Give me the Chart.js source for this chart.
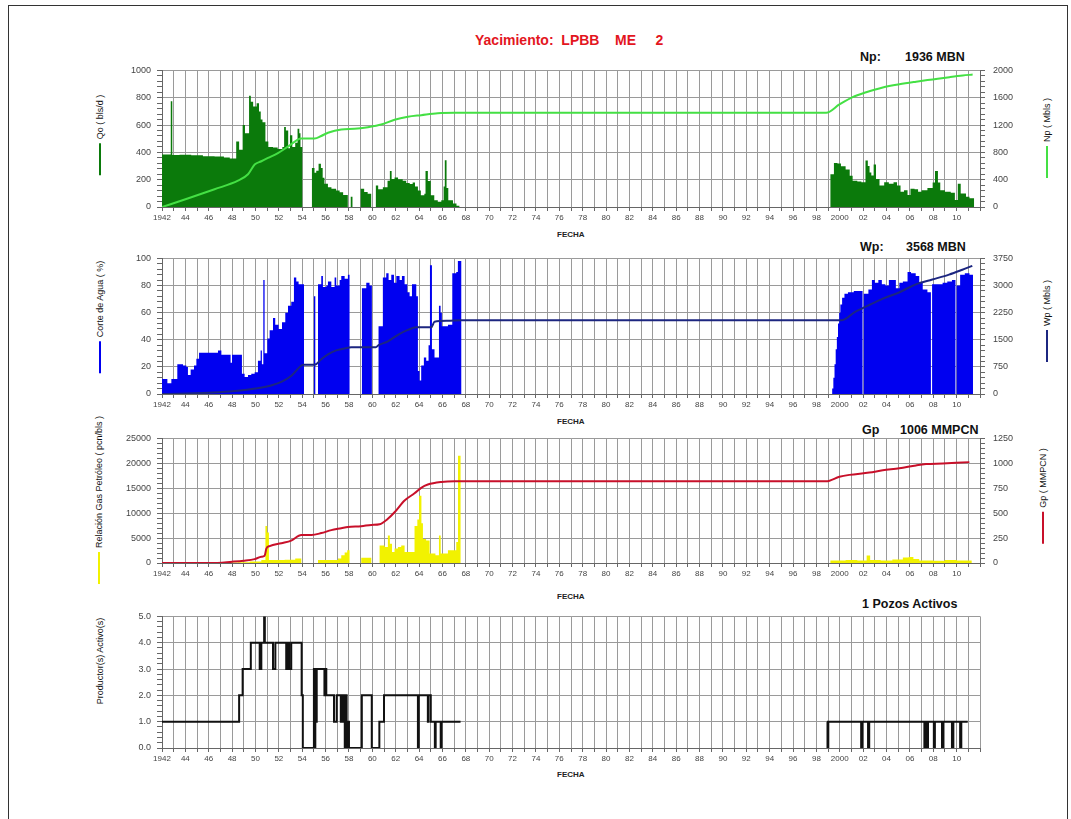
<!DOCTYPE html>
<html lang="es">
<head>
<meta charset="utf-8">
<title>Yacimiento LPBB ME 2</title>
<script src="https://cdn.jsdelivr.net/npm/chart.js@4.4.1/dist/chart.umd.min.js"></script>
<style>
    body { margin: 0; background: #fff; font-family: "Liberation Sans", Arial, sans-serif; }
    #page { position: relative; width: 1071px; height: 819px; overflow: hidden; background: #fff; }
    #frame { position: absolute; left: 8px; top: 5px; width: 1058px; height: 900px; border: 1px solid #333; }
    canvas { position: absolute; left: 0; }
    .txt { position: absolute; white-space: pre; font-weight: bold; line-height: 14px; }
    .head { font-size: 12.5px; color: #111; }
    .fecha { font-size: 8px; color: #222; left: 557px; line-height: 10px; }
    .ytitle { position: absolute; transform: translate(-50%, -50%) rotate(-90deg); white-space: pre;
              font-size: 9px; color: #111; display: flex; align-items: center; }
    .ytitle i { display: inline-block; width: 32px; height: 2px; margin-right: 4px; }
</style>
</head>
<body>
<div id="page">
    <div id="frame"></div>

    <div class="txt" style="left:475px; top:33px; font-size:14px; color:#e3161e;">Yacimiento:  LPBB    ME     2</div>

    <div class="txt head" style="left:860px; top:50px;">Np:</div>
    <div class="txt head" style="left:905px; top:50px;">1936 MBN</div>
    <div class="txt head" style="left:860px; top:240px;">Wp:</div>
    <div class="txt head" style="left:906px; top:240px;">3568 MBN</div>
    <div class="txt head" style="left:862px; top:423px;">Gp</div>
    <div class="txt head" style="left:900px; top:423px;">1006 MMPCN</div>
    <div class="txt head" style="left:862px; top:597px;">1 Pozos Activos</div>

    <div class="txt fecha" style="top:230px;">FECHA</div>
    <div class="txt fecha" style="top:417px;">FECHA</div>
    <div class="txt fecha" style="top:592px;">FECHA</div>
    <div class="txt fecha" style="top:770px;">FECHA</div>

    <div class="ytitle" style="left:100px; top:135px;"><i style="background:#0b7a0b"></i>Qo ( bls/d )</div>
    <div class="ytitle" style="left:1047px; top:138px;"><i style="background:#44e044"></i>Np ( Mbls )</div>
    <div class="ytitle" style="left:100px; top:317px;"><i style="background:#0000f0"></i>Corte de Agua ( %)</div>
    <div class="ytitle" style="left:1047px; top:321px;"><i style="background:#1c2680"></i>Wp ( Mbls )</div>
    <div class="ytitle" style="left:99px; top:500px;"><i style="background:#f2f200"></i>Relación Gas Petróleo ( pcn/bls )</div>
    <div class="ytitle" style="left:1043px; top:496px;"><i style="background:#c8102a"></i>Gp ( MMPCN )</div>
    <div class="ytitle" style="left:100px; top:661px;">Productor(s) Activo(s)</div>

    <canvas id="qoChart" width="1071" height="170" style="top:57px;"></canvas>
    <canvas id="wcChart" width="1071" height="169" style="top:245px;"></canvas>
    <canvas id="gorChart" width="1071" height="158" style="top:425px;"></canvas>
    <canvas id="wellsChart" width="1071" height="163" style="top:605px;"></canvas>
</div>

<script>
// Tick labels for the date axis (every second year)
const yearTicks = [1942, 1944, 1946, 1948, 1950, 1952, 1954, 1956, 1958, 1960, 1962, 1964, 1966, 1968,
    1970, 1972, 1974, 1976, 1978, 1980, 1982, 1984, 1986, 1988, 1990, 1992, 1994, 1996, 1998, 2000,
    2002, 2004, 2006, 2008, 2010];
const yearLabels = ['1942', '44', '46', '48', '50', '52', '54', '56', '58', '60', '62', '64', '66', '68',
    '70', '72', '74', '76', '78', '80', '82', '84', '86', '88', '90', '92', '94', '96', '98', '2000',
    '02', '04', '06', '08', '10'];

// Oil rate Qo (bls/d), each value holds until the next date
const qoYears = [1942.0, 1942.75, 1942.88, 1943.5, 1944.5, 1945.5, 1946.5, 1947.3, 1947.8, 1948.35,
    1948.6, 1948.9, 1949.1, 1949.45, 1949.6, 1949.8, 1950.1, 1950.3, 1950.45, 1950.6, 1950.85, 1951.1,
    1951.5, 1951.9, 1952.3, 1952.45, 1952.6, 1952.8, 1952.95, 1953.15, 1953.4, 1953.6, 1953.75, 1953.85,
    1954.0, 1954.83, 1955.05, 1955.2, 1955.4, 1955.6, 1955.75, 1955.9, 1956.2, 1956.5, 1956.9, 1957.2,
    1957.5, 1957.9, 1958.15, 1958.3, 1959.0, 1959.3, 1959.6, 1959.9, 1960.3, 1960.5, 1960.9, 1961.3,
    1961.5, 1961.65, 1961.9, 1962.2, 1962.6, 1962.9, 1963.2, 1963.45, 1963.65, 1963.9, 1964.15, 1964.45,
    1964.55, 1964.75, 1965.0, 1965.3, 1965.6, 1965.9, 1966.1, 1966.2, 1966.35, 1966.5, 1966.9, 1967.2,
    1967.45,
    1999.2, 1999.5, 1999.8, 2000.1, 2000.5, 2000.85, 2001.1, 2001.5, 2001.85, 2002.2, 2002.4, 2002.55,
    2002.7, 2002.9, 2003.1, 2003.4, 2003.8, 2004.2, 2004.6, 2004.9, 2005.2, 2005.5, 2005.8, 2006.05,
    2006.4, 2006.7, 2007.0, 2007.5, 2007.95, 2008.15, 2008.4, 2008.6, 2009.0, 2009.5, 2009.85, 2010.1,
    2010.35, 2010.8, 2011.1, 2011.5];
const qoRates = [385, 775, 380, 382, 378, 372, 370, 362, 355, 480,
    420, 600, 540, 815, 770, 735, 760, 700, 640, 620, 480, 440,
    435, 425, 440, 585, 560, 430, 525, 440, 470, 572, 540, 440,
    0, 285, 250, 265, 316, 285, 215, 170, 145, 133, 120, 108,
    88, 0, 75, 0, 133, 110, 97, 0, 157, 130, 145, 192,
    264, 205, 216, 204, 192, 175, 169, 180, 150, 121, 86, 97,
    264, 190, 86, 50, 38, 50, 150, 342, 140, 50, 26, 10,
    0,
    240, 322, 318, 299, 275, 228, 193, 186, 181, 340, 300, 252,
    230, 311, 205, 158, 181, 170, 181, 158, 111, 122, 87, 134,
    130, 111, 122, 140, 180, 264, 180, 122, 111, 105, 52, 170,
    99, 75, 64, 0];

// Cumulative oil Np (Mbls)
const npYears = [1942.0, 1944.2, 1946.5, 1948.5, 1949.36, 1949.93, 1950.5, 1951.07, 1951.92, 1952.78,
    1953.92, 1955.06, 1955.63, 1956.2, 1957.34, 1958.48, 1959.62, 1960.76, 1961.9, 1963.04, 1964.18,
    1965.6, 1967.04, 1998.84, 1999.97, 2001.1, 2002.26, 2003.68, 2005.1, 2006.53, 2007.95, 2009.38,
    2010.52, 2011.37];
const npValues = [0, 124, 260, 385, 480, 622, 670, 718, 789, 884,
    1003, 1003, 1040, 1088, 1136, 1145, 1169, 1207, 1278, 1321, 1345,
    1373, 1380, 1380, 1501, 1609, 1680, 1751, 1798, 1835, 1868, 1901,
    1925, 1939];

// Water cut (%)
const wcYears = [1942.0, 1942.46, 1942.8, 1943.31, 1943.8, 1944.08, 1944.22, 1944.45, 1944.74, 1944.94,
    1945.17, 1946.79, 1947.08, 1947.87, 1947.99, 1948.84, 1949.07, 1949.36, 1949.64, 1949.93, 1950.21,
    1950.44, 1950.55, 1950.67, 1950.78, 1951.01, 1951.21, 1951.5, 1951.69, 1951.98, 1952.27, 1952.55,
    1952.78, 1953.06, 1953.29, 1953.49, 1953.69, 1954.15, 1955.0, 1955.12, 1955.35, 1955.63, 1955.77,
    1956.06, 1956.2, 1956.49, 1956.77, 1956.91, 1957.2, 1957.34, 1957.63, 1957.91, 1958.05, 1959.11,
    1959.48, 1959.76, 1959.96, 1960.53, 1960.9, 1961.19, 1961.39, 1961.62, 1961.85, 1962.05, 1962.33,
    1962.53, 1962.76, 1962.99, 1963.19, 1963.39, 1963.76, 1963.9, 1964.04, 1964.18, 1964.41, 1964.61,
    1964.81, 1964.93, 1965.1, 1965.32, 1965.7, 1965.84, 1965.95, 1966.47, 1966.84, 1967.18, 1967.32,
    1967.61,
    1999.35, 1999.45, 1999.55, 1999.65, 1999.75, 1999.85, 1999.95, 2000.05, 2000.2, 2000.4, 2000.7,
    2001.2, 2001.95, 2002.05, 2002.45, 2002.75, 2003.0, 2003.3, 2003.6, 2003.9, 2004.2, 2004.5, 2004.8,
    2005.1, 2005.4, 2005.8, 2006.1, 2006.5, 2006.8, 2007.1, 2007.5, 2007.8, 2007.9, 2008.4, 2008.8,
    2009.2, 2009.6, 2009.9, 2010.0, 2010.3, 2010.7, 2011.1, 2011.4];
const wcValues = [11, 8, 11, 22, 21, 20, 14, 18, 21, 26,
    30.5, 32, 29, 23, 29, 15, 12.5, 14, 15, 16, 24.5,
    32, 22, 84, 30, 41, 47, 56, 51, 48, 53, 60,
    65, 68, 86, 83, 81, 0, 72, 0, 81, 87, 79,
    80, 83, 79, 86, 80, 84, 87, 85, 88, 0, 78,
    82, 80, 0, 50, 86, 89, 84, 88, 82, 87, 84,
    87, 81, 75, 72, 81, 72, 17, 10, 21, 27, 24.5,
    36, 95, 33, 27, 65, 60, 50, 51, 89, 90, 98,
    0,
    4, 12, 22, 33, 42, 52, 60, 66, 71, 74, 75,
    76, 0, 74, 77, 84, 82, 84, 81, 80, 84, 84, 78,
    82, 83, 90, 89, 87, 82, 77, 75, 0, 81, 81, 82,
    83, 84, 0, 80, 88, 89, 88, 0];

// Cumulative water Wp (Mbls)
const wpYears = [1942.0, 1946.0, 1948.5, 1950.0, 1951.4, 1952.3, 1953.1, 1953.9, 1954.15, 1955.06,
    1955.63, 1956.2, 1956.91, 1957.91, 1958.2, 1960.3, 1960.53, 1961.33, 1962.19, 1963.04, 1963.76,
    1965.04, 1965.32, 1966.47, 1967.6, 2000.17, 2001.31, 2002.45, 2003.64, 2005.07, 2006.5, 2007.92,
    2009.35, 2010.49, 2011.34];
const wpValues = [0, 36, 90, 153, 243, 351, 513, 782, 809, 809,
    962, 1097, 1205, 1277, 1295, 1295, 1349, 1457, 1637, 1772, 1844,
    1844, 1996, 2023, 2040, 2040, 2270, 2450, 2630, 2808, 3033, 3167,
    3301, 3436, 3544];

// Gas-oil ratio (pcn/bls)
const gorYears = [1942.0, 1948.5, 1949.5, 1950.5, 1950.85, 1951.0, 1951.15, 1952.5, 1953.4, 1953.92,
    1955.35, 1957.06, 1957.34, 1957.63, 1957.85, 1958.05, 1959.05, 1959.91, 1960.62, 1961.05, 1961.33,
    1961.5, 1961.68, 1961.9, 1962.19, 1962.47, 1962.76, 1963.61, 1963.85, 1964.0, 1964.2, 1964.33,
    1964.6, 1964.9, 1965.4, 1965.7, 1965.85, 1966.47, 1966.89, 1967.18, 1967.33, 1967.55,
    1999.2, 2000.5, 2001.5, 2002.3, 2002.6, 2003.5, 2004.5, 2005.4, 2005.9, 2006.3, 2006.8, 2008.0,
    2009.0, 2010.0, 2011.3];
const gorValues = [80, 150, 300, 600, 7400, 6100, 600, 650, 900, 0,
    600, 900, 1570, 2090, 2550, 0, 1050, 0, 3500, 3200, 5500,
    3850, 2200, 2900, 3200, 3500, 2200, 7400, 8750, 13500, 8000, 4800,
    4500, 1900, 1570, 5500, 1900, 2550, 2550, 4200, 21500, 0,
    500, 600, 500, 1500, 600, 500, 700, 1100, 1200, 800, 500, 450,
    600, 500, 0];

// Cumulative gas Gp (MMPCN)
const gpYears = [1942.0, 1946.2, 1948.0, 1949.0, 1949.93, 1950.5, 1950.78, 1950.93, 1951.21, 1952.21,
    1953.06, 1953.92, 1954.78, 1955.63, 1956.49, 1957.34, 1957.91, 1959.05, 1959.91, 1960.62, 1961.33,
    1961.9, 1962.76, 1963.61, 1964.18, 1964.75, 1965.9, 1967.04, 1998.84, 1999.97, 2000.82, 2002.53,
    2003.68, 2005.1, 2006.53, 2007.38, 2008.81, 2009.95, 2011.09];
const gpValues = [0, 0, 13, 23, 39, 62, 72, 144, 170, 199,
    225, 281, 281, 300, 330, 349, 362, 369, 382, 389, 444,
    509, 627, 699, 754, 787, 813, 820, 820, 865, 884, 907,
    930, 950, 979, 992, 998, 1005, 1012];

// Active producers (null = no wells reported)
const wellsYears = [1942.0, 1948.6, 1948.9, 1949.6, 1950.36, 1950.5, 1950.74, 1950.8, 1951.5, 1951.7,
    1952.63, 1952.75, 1952.88, 1953.06, 1953.95, 1954.05, 1955.0, 1955.05, 1955.12, 1955.18, 1955.24,
    1955.9, 1956.0, 1956.06, 1956.72, 1956.95, 1957.3, 1957.38, 1957.48, 1957.56, 1957.64, 1957.72,
    1957.8, 1957.88, 1958.0, 1959.1, 1959.95, 1960.6, 1961.0, 1963.9, 1963.97, 1964.75, 1964.8,
    1965.0, 1965.35, 1965.42, 1965.85, 1965.92, 1967.55, 1967.56,
    1998.9, 1998.95, 1999.02, 2001.83, 2001.93, 2002.42, 2002.52, 2007.24, 2007.32, 2007.45, 2007.55,
    2008.05, 2008.14, 2008.75, 2008.84, 2009.6, 2009.72, 2010.3, 2010.4, 2010.95];
const wellsCount = [1, 2, 3, 4, 3, 4, 5, 4, 3, 4,
    3, 4, 3, 4, 2, 0, 3, 0, 3, 1, 3,
    2, 3, 2, 1, 2, 1, 2, 1, 2, 0, 2,
    0, 1, 0, 2, 0, 1, 2, 0, 2, 1, 2,
    1, 0, 1, 0, 1, 1, null,
    1, 0, 1, 0, 1, 0, 1, 0, 1, 0, 1,
    0, 1, 0, 1, 0, 1, 0, 1, 1];

Chart.defaults.font.family = '"Liberation Sans", Arial, sans-serif';
Chart.defaults.color = '#444';
Chart.defaults.animation = false;

const GRID = '#9a9a9a';
const AXIS = '#666';

function points(xs, ys) {
    return xs.map((x, i) => ({ x: x, y: ys[i] }));
}

function isMajor(value, major) {
    const r = value / major;
    return Math.abs(r - Math.round(r)) < 1e-6;
}

function dateAxis() {
    return {
        type: 'linear', min: 1942, max: 2012,
        afterFit: (scale) => { scale.height = 20; },
        grid: { color: GRID, tickColor: AXIS, tickLength: 4 },
        border: { color: AXIS },
        ticks: {
            stepSize: 1, autoSkip: false, maxRotation: 0, padding: 2, font: { size: 8 },
            callback: (v) => {
                const i = yearTicks.indexOf(v);
                return i < 0 ? '' : yearLabels[i];
            }
        }
    };
}

// major = labelled step, minor = small tick step
function valueAxis(side, max, major, minor, fmt) {
    const left = side === 'left';
    return {
        type: 'linear', position: side, min: 0, max: max,
        afterFit: (scale) => { scale.width = left ? 162 : 91; },
        grid: {
            drawOnChartArea: left,
            color: (ctx) => (ctx.tick && isMajor(ctx.tick.value, major)) ? GRID : 'rgba(0,0,0,0)',
            tickColor: AXIS,
            tickLength: 5
        },
        border: { color: AXIS },
        ticks: {
            stepSize: minor, autoSkip: false, padding: left ? 6 : 8, font: { size: 9 },
            callback: (v) => isMajor(v, major) ? fmt(v) : ''
        }
    };
}

function areaSet(xs, ys, color) {
    return {
        data: points(xs, ys), yAxisID: 'y', stepped: 'before', fill: 'origin',
        backgroundColor: color, borderColor: color, borderWidth: 0, pointRadius: 0
    };
}

function cumSet(xs, ys, color) {
    return {
        data: points(xs, ys), yAxisID: 'yr', fill: false, borderColor: color,
        borderWidth: 2, pointRadius: 0, cubicInterpolationMode: 'monotone'
    };
}

function makePanel(id, datasets, scales, padRight) {
    return new Chart(document.getElementById(id), {
        type: 'line',
        data: { datasets: datasets },
        options: {
            responsive: false,
            animation: false,
            layout: { padding: { top: 10, right: padRight, bottom: 0, left: 0 } },
            plugins: { legend: { display: false }, tooltip: { enabled: false } },
            scales: scales
        }
    });
}

const plain = (v) => String(v);

makePanel('qoChart', [
    cumSet(npYears, npValues, '#44e044'),
    areaSet(qoYears, qoRates, '#0b7a0b')
], {
    x: dateAxis(),
    y: valueAxis('left', 1000, 200, 40, plain),
    yr: valueAxis('right', 2000, 400, 80, plain)
}, 0);

makePanel('wcChart', [
    cumSet(wpYears, wpValues, '#1c2680'),
    areaSet(wcYears, wcValues, '#0000f0')
], {
    x: dateAxis(),
    y: valueAxis('left', 100, 20, 4, plain),
    yr: valueAxis('right', 3750, 750, 150, plain)
}, 0);

makePanel('gorChart', [
    cumSet(gpYears, gpValues, '#c8102a'),
    areaSet(gorYears, gorValues, '#f2f200')
], {
    x: dateAxis(),
    y: valueAxis('left', 25000, 5000, 1000, plain),
    yr: valueAxis('right', 1250, 250, 50, plain)
}, 0);

makePanel('wellsChart', [{
    data: points(wellsYears, wellsCount), yAxisID: 'y', stepped: 'before', fill: false,
    borderColor: '#111', borderWidth: 2, pointRadius: 0, spanGaps: false
}], {
    x: dateAxis(),
    y: valueAxis('left', 5, 1, 0.2, (v) => v.toFixed(1))
}, 91);
</script>
</body>
</html>
